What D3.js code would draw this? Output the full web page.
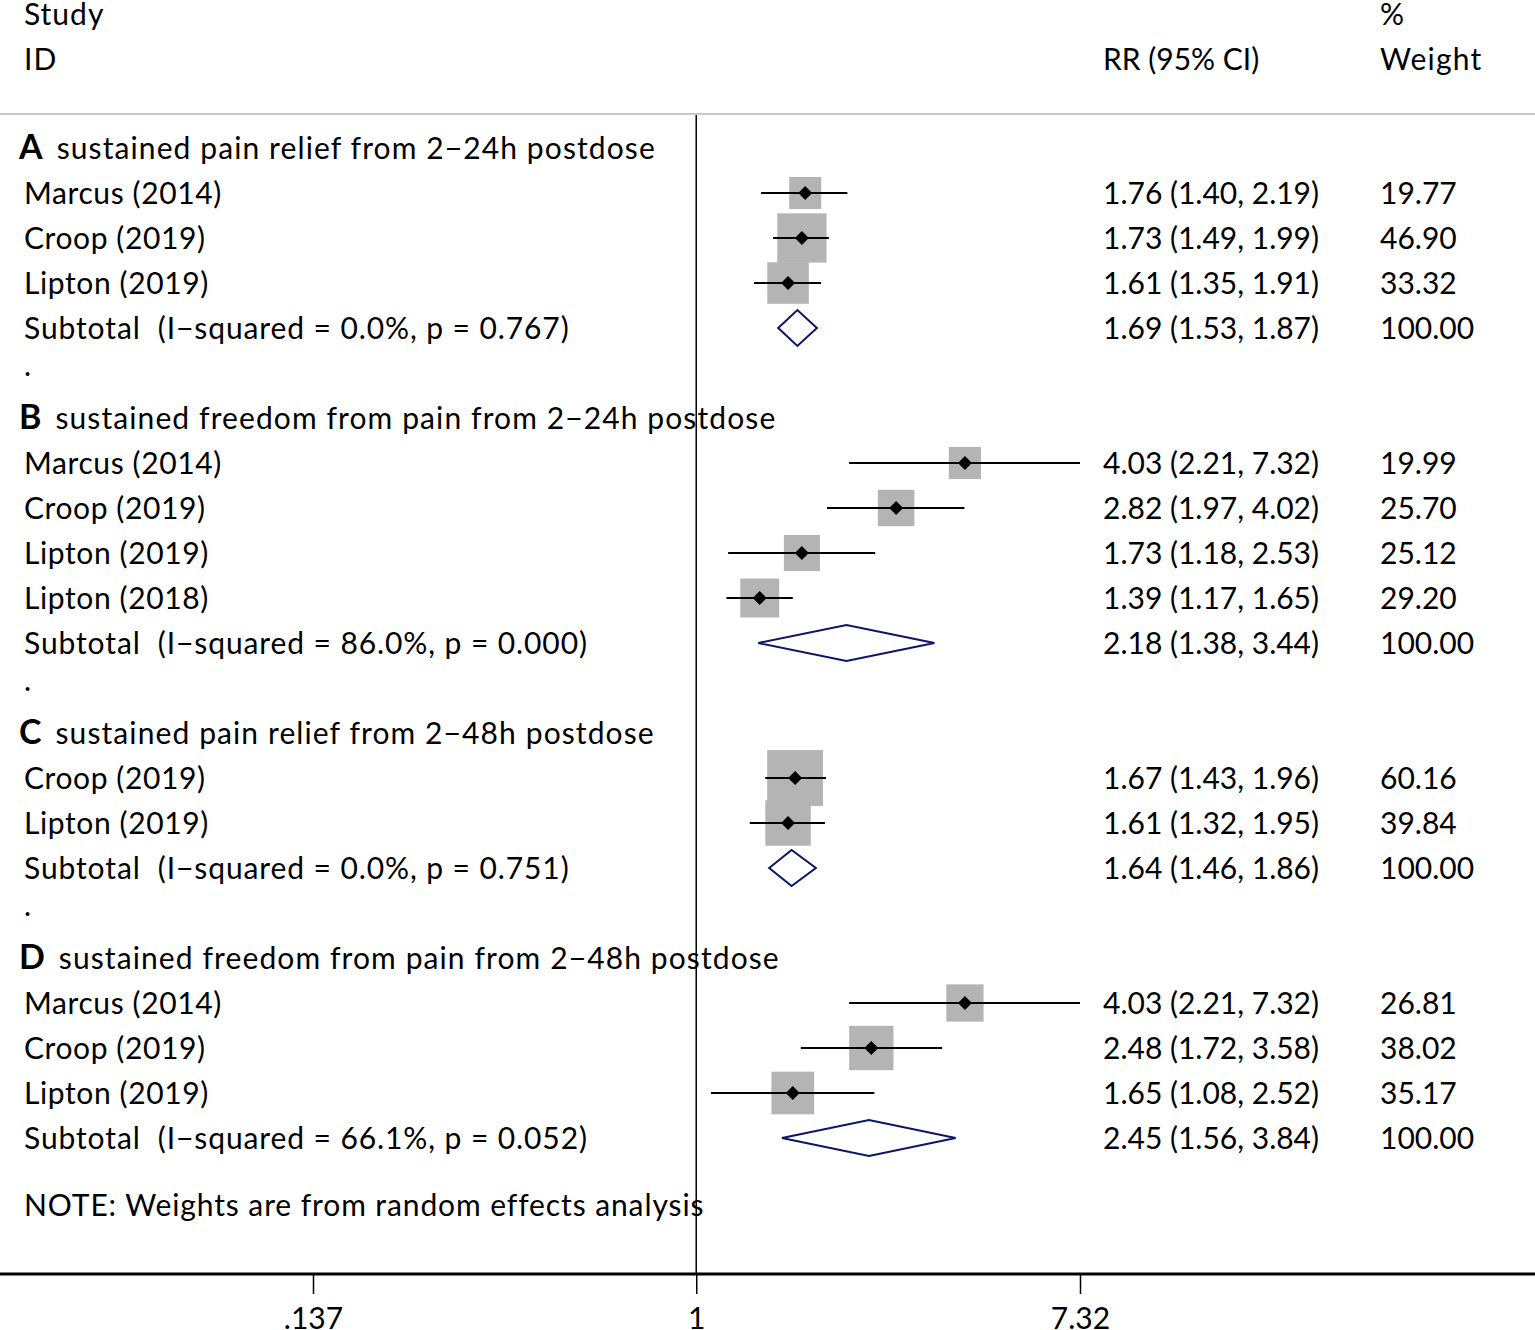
<!DOCTYPE html>
<html>
<head>
<meta charset="utf-8">
<script src="https://cdn.jsdelivr.net/npm/d3@7"></script>
<style>
  body { margin: 0; background: #fff; }
  svg text { font-family: Lato, "Noto Sans", sans-serif; fill: #000; }
</style>
</head>
<body>
<div id="chart"></div>
<script>
// groups of the forest plot
const groupLetters = ["A", "B", "C", "D"]
const groupTitles = [
	"sustained pain relief from 2\u221224h postdose",
	"sustained freedom from pain from 2\u221224h postdose",
	"sustained pain relief from 2\u221248h postdose",
	"sustained freedom from pain from 2\u221248h postdose"
]
// studies of each group
const studyNames = [
	["Marcus (2014)", "Croop (2019)", "Lipton (2019)"],
	["Marcus (2014)", "Croop (2019)", "Lipton (2019)", "Lipton (2018)"],
	["Croop (2019)", "Lipton (2019)"],
	["Marcus (2014)", "Croop (2019)", "Lipton (2019)"]
]
const studyRR = [[1.76, 1.73, 1.61], [4.03, 2.82, 1.73, 1.39], [1.67, 1.61], [4.03, 2.48, 1.65]]
const studyLow = [[1.40, 1.49, 1.35], [2.21, 1.97, 1.18, 1.17], [1.43, 1.32], [2.21, 1.72, 1.08]]
const studyHigh = [[2.19, 1.99, 1.91], [7.32, 4.02, 2.53, 1.65], [1.96, 1.95], [7.32, 3.58, 2.52]]
const studyWeight = [[19.77, 46.90, 33.32], [19.99, 25.70, 25.12, 29.20], [60.16, 39.84], [26.81, 38.02, 35.17]]
// subtotals
const subI2 = ["0.0%", "86.0%", "0.0%", "66.1%"]
const subP = ["0.767", "0.000", "0.751", "0.052"]
const subRR = [1.69, 2.18, 1.64, 2.45]
const subLow = [1.53, 1.38, 1.46, 1.56]
const subHigh = [1.87, 3.44, 1.86, 3.84]
// axis
const tickValues = [0.137, 1, 7.32]
const tickLabels = [".137", "1", "7.32"]

const width = 1535
const height = 1330
const fontSize = 30
const rowStart = 148
const rowStep = 45
const colLabel = 24
const colRR = 1103
const colWeight = 1380
const axisY = 1274

let svg = d3.select("#chart").append("svg")
	.attr("width", width)
	.attr("height", height)

let x = d3.scaleLog().domain([0.137, 7.32]).range([313, 1080])

// build the rows list
let rows = []
for (let g = 0; g < groupLetters.length; ++g) {
	rows.push({type: "group", g: g})
	for (let i = 0; i < studyNames[g].length; ++i) {
		rows.push({type: "study", g: g, i: i})
	}
	rows.push({type: "subtotal", g: g})
	if (g < groupLetters.length - 1) rows.push({type: "dot"})
}
let y = d3.scaleLinear().domain([0, 1]).range([rowStart, rowStart + rowStep])

// text helper, spacing widens Lato toward the original font
function txt(xp, yp, s, spacing) {
	let t = svg.append("text")
		.attr("x", xp)
		.attr("y", yp + fontSize * 0.35)
		.style("font-size", fontSize + "px")
		.style("white-space", "pre")
		.text(s)
	if (spacing) t.style("letter-spacing", spacing + "px")
	return t
}

// headers
txt(colLabel, 14, "Study", 1)
txt(colLabel, 59, "ID", 1)
txt(colRR, 59, "RR (95% CI)")
txt(colWeight, 14, "%")
txt(colWeight, 59, "Weight", 1.2)

svg.append("line")
	.attr("x1", 0).attr("x2", width)
	.attr("y1", 114).attr("y2", 114)
	.attr("stroke", "#c8c8c8")
	.attr("stroke-width", 2)

// null line
svg.append("line")
	.attr("x1", x(1)).attr("x2", x(1))
	.attr("y1", 115).attr("y2", axisY)
	.attr("stroke", "#000")
	.attr("stroke-width", 1.5)

const boxK = 32 / Math.sqrt(19.77)
const fmt = d3.format(".2f")

rows.forEach((r, k) => {
	let yc = y(k)
	if (r.type == "group") {
		let t = svg.append("text")
			.attr("x", 19)
			.attr("y", yc + fontSize * 0.35)
			.style("font-size", fontSize + "px")
		t.append("tspan").style("font-weight", "bold").style("font-size", "34px").text(groupLetters[r.g])
		t.append("tspan").attr("dx", 14).style("letter-spacing", "1.1px").text(groupTitles[r.g])
	} else if (r.type == "study") {
		let g = r.g, i = r.i
		let rr = studyRR[g][i], lo = studyLow[g][i], hi = studyHigh[g][i], w = studyWeight[g][i]
		let s = boxK * Math.sqrt(w)
		svg.append("rect")
			.attr("x", x(rr) - s / 2).attr("y", yc - s / 2)
			.attr("width", s).attr("height", s)
			.attr("fill", "#b4b4b4")
		svg.append("line")
			.attr("x1", x(lo)).attr("x2", x(hi))
			.attr("y1", yc).attr("y2", yc)
			.attr("stroke", "#000").attr("stroke-width", 2)
		let m = 7
		svg.append("path")
			.attr("d", `M${x(rr) - m},${yc}L${x(rr)},${yc - m}L${x(rr) + m},${yc}L${x(rr)},${yc + m}Z`)
			.attr("fill", "#000")
		txt(colLabel, yc, studyNames[g][i], 0.6)
		txt(colRR, yc, `${fmt(rr)} (${fmt(lo)}, ${fmt(hi)})`)
		txt(colWeight, yc, fmt(w))
	} else if (r.type == "subtotal") {
		let g = r.g
		let h = 18
		svg.append("path")
			.attr("d", `M${x(subLow[g])},${yc}L${x(subRR[g])},${yc - h}L${x(subHigh[g])},${yc}L${x(subRR[g])},${yc + h}Z`)
			.attr("fill", "#fff")
			.attr("stroke", "#0d1466")
			.attr("stroke-width", 2)
		txt(colLabel, yc, `Subtotal  (I\u2212squared = ${subI2[g]}, p = ${subP[g]})`, 0.9)
		txt(colRR, yc, `${fmt(subRR[g])} (${fmt(subLow[g])}, ${fmt(subHigh[g])})`)
		txt(colWeight, yc, "100.00")
	} else {
		txt(colLabel, yc - 8, ".")
	}
})

txt(colLabel, y(rows.length + 0.5), "NOTE: Weights are from random effects analysis", 0.9)

// axis
let axis = svg.append("g")
	.attr("transform", `translate(0,${axisY})`)
	.call(d3.axisBottom(x).tickValues(tickValues).tickFormat((d, i) => tickLabels[i]).tickSize(20).tickPadding(14))
axis.select(".domain").remove()
axis.selectAll(".tick line").attr("stroke", "#000").attr("stroke-width", 1.5)
axis.selectAll(".tick text").style("font-size", fontSize + "px").style("font-family", "Lato, 'Noto Sans', sans-serif").attr("fill", "#000")
svg.append("line")
	.attr("x1", 0).attr("x2", width)
	.attr("y1", axisY).attr("y2", axisY)
	.attr("stroke", "#000").attr("stroke-width", 3)
</script>
</body>
</html>
